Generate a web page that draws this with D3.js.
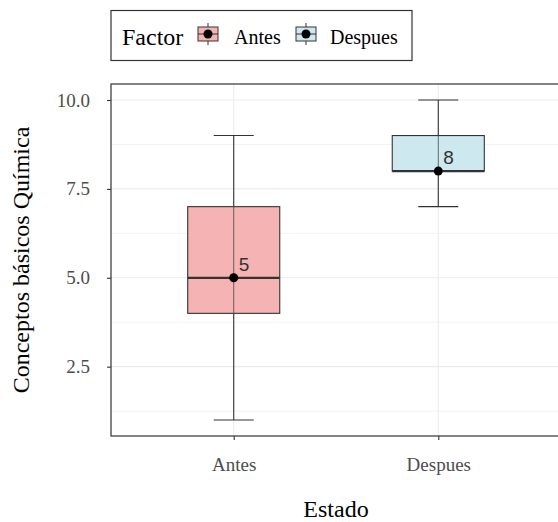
<!DOCTYPE html>
<html>
<head>
<meta charset="utf-8">
<script src="https://cdn.jsdelivr.net/npm/d3@7"></script>
<style>
  body { margin: 0; background: #fff; }
  svg { display: block; font-family: "Liberation Serif", "Times New Roman", serif; }
</style>
</head>
<body>
<div id="vis"></div>
<script>
// data
const groups = ["Antes", "Despues"];
const mins = [1, 7];
const q1s = [4, 8];
const medians = [5, 8];
const q3s = [7, 9];
const maxs = [9, 10];
const means = [5, 8];
const fills = ["#f6b3b3", "#cee8f0"];
const yTicks = [2.5, 5.0, 7.5, 10.0];
const yMinor = [1.25, 3.75, 6.25, 8.75];

const W = 558, H = 522;
const panel = { left: 111, top: 84, right: 561, bottom: 436 };

const svg = d3.select("#vis").append("svg")
  .attr("width", W).attr("height", H);

const unit = (panel.right - panel.left) / 2.2;
const x = d3.scalePoint().domain(groups)
  .range([panel.left + unit * 0.6, panel.right - unit * 0.6]);
const y = d3.scaleLinear().domain([0.55, 10.45]).range([panel.bottom, panel.top]);

const data = groups.map((g, i) => ({
  g, min: mins[i], q1: q1s[i], med: medians[i], q3: q3s[i], max: maxs[i], mean: means[i], fill: fills[i]
}));

// grid
const grid = svg.append("g");
grid.selectAll(".minor").data(yMinor).enter().append("line")
  .attr("x1", panel.left).attr("x2", panel.right)
  .attr("y1", d => y(d)).attr("y2", d => y(d))
  .attr("stroke", "#ebebeb").attr("stroke-width", 0.6);
grid.selectAll(".major").data(yTicks).enter().append("line")
  .attr("x1", panel.left).attr("x2", panel.right)
  .attr("y1", d => y(d)).attr("y2", d => y(d))
  .attr("stroke", "#ebebeb").attr("stroke-width", 1.1);
grid.selectAll(".majx").data(groups).enter().append("line")
  .attr("y1", panel.top).attr("y2", panel.bottom)
  .attr("x1", d => x(d)).attr("x2", d => x(d))
  .attr("stroke", "#ebebeb").attr("stroke-width", 1.1);

// boxes
const bw = 0.45 * unit;
const cap = 20;
const box = svg.append("g").selectAll("g").data(data).enter().append("g");
box.append("line")
  .attr("x1", d => x(d.g)).attr("x2", d => x(d.g))
  .attr("y1", d => y(d.min)).attr("y2", d => y(d.max))
  .attr("stroke", "#333").attr("stroke-width", 1.1);
box.append("line")
  .attr("x1", d => x(d.g) - cap).attr("x2", d => x(d.g) + cap)
  .attr("y1", d => y(d.max)).attr("y2", d => y(d.max))
  .attr("stroke", "#333").attr("stroke-width", 1.1);
box.append("line")
  .attr("x1", d => x(d.g) - cap).attr("x2", d => x(d.g) + cap)
  .attr("y1", d => y(d.min)).attr("y2", d => y(d.min))
  .attr("stroke", "#333").attr("stroke-width", 1.1);
box.append("rect")
  .attr("x", d => x(d.g) - bw / 2).attr("width", bw)
  .attr("y", d => y(d.q3)).attr("height", d => y(d.q1) - y(d.q3))
  .attr("fill", d => d.fill)
  .attr("stroke", "#333").attr("stroke-width", 1.1);
box.append("line")
  .attr("x1", d => x(d.g)).attr("x2", d => x(d.g))
  .attr("y1", d => y(d.q3)).attr("y2", d => y(d.q1))
  .attr("stroke", "#333").attr("stroke-opacity", 0.7).attr("stroke-width", 1);
box.append("line")
  .attr("x1", d => x(d.g) - bw / 2).attr("x2", d => x(d.g) + bw / 2)
  .attr("y1", d => y(d.med)).attr("y2", d => y(d.med))
  .attr("stroke", "#333").attr("stroke-width", 2.2);
box.append("circle")
  .attr("cx", d => x(d.g)).attr("cy", d => y(d.mean)).attr("r", 4.5)
  .attr("fill", "#000");
box.append("text")
  .attr("x", d => x(d.g) + 5).attr("y", d => y(d.mean) - 7)
  .attr("font-family", "Liberation Sans, Arial, sans-serif")
  .attr("font-size", 19).attr("fill", "#333")
  .text(d => d.mean);

// panel border
svg.append("rect")
  .attr("x", panel.left).attr("y", panel.top)
  .attr("width", panel.right - panel.left).attr("height", panel.bottom - panel.top)
  .attr("fill", "none").attr("stroke", "#333").attr("stroke-width", 1.2);

// axes
const yAxis = svg.append("g")
  .attr("transform", `translate(${panel.left},0)`)
  .call(d3.axisLeft(y).tickValues(yTicks).tickFormat(d3.format(".1f")).tickSizeOuter(0).tickSize(4).tickPadding(17));
const xAxis = svg.append("g")
  .attr("transform", `translate(0,${panel.bottom})`)
  .call(d3.axisBottom(x).tickSizeOuter(0).tickSize(4).tickPadding(18));
[yAxis, xAxis].forEach(a => {
  a.select(".domain").remove();
  a.selectAll(".tick line").attr("stroke", "#333").attr("stroke-width", 1.1);
  a.selectAll(".tick text").attr("fill", "#4d4d4d")
    .attr("font-family", "Liberation Serif, serif").attr("font-size", 19);
});

// axis titles
svg.append("text")
  .attr("x", (panel.left + panel.right) / 2).attr("y", 517)
  .attr("text-anchor", "middle").attr("font-size", 24).attr("fill", "#000")
  .text("Estado");
svg.append("text")
  .attr("transform", `translate(29,${(panel.top + panel.bottom) / 2}) rotate(-90)`)
  .attr("text-anchor", "middle").attr("font-size", 24).attr("fill", "#000")
  .text("Conceptos básicos Química");

// legend
const lg = svg.append("g");
lg.append("rect").attr("x", 111).attr("y", 10.5).attr("width", 301).attr("height", 50)
  .attr("fill", "#fff").attr("stroke", "#333").attr("stroke-width", 1.2);
lg.append("text").attr("x", 122).attr("y", 45).attr("font-size", 24).attr("fill", "#000").text("Factor");
const keyX = [197, 295];
const labX = [234, 330];
data.forEach((d, i) => {
  const k = lg.append("g").attr("transform", `translate(${keyX[i]},23)`);
  k.append("line").attr("x1", 11).attr("x2", 11).attr("y1", 0).attr("y2", 22)
    .attr("stroke", "#333").attr("stroke-width", 1);
  k.append("rect").attr("x", 1).attr("y", 4).attr("width", 20).attr("height", 14)
    .attr("fill", d.fill).attr("stroke", "#333").attr("stroke-width", 1);
  k.append("line").attr("x1", 1).attr("x2", 21).attr("y1", 11).attr("y2", 11)
    .attr("stroke", "#333").attr("stroke-width", 1);
  k.append("circle").attr("cx", 11).attr("cy", 11).attr("r", 4.5).attr("fill", "#000");
  lg.append("text").attr("x", labX[i]).attr("y", 44).attr("font-size", 20).attr("fill", "#000").text(d.g);
});
</script>
</body>
</html>
